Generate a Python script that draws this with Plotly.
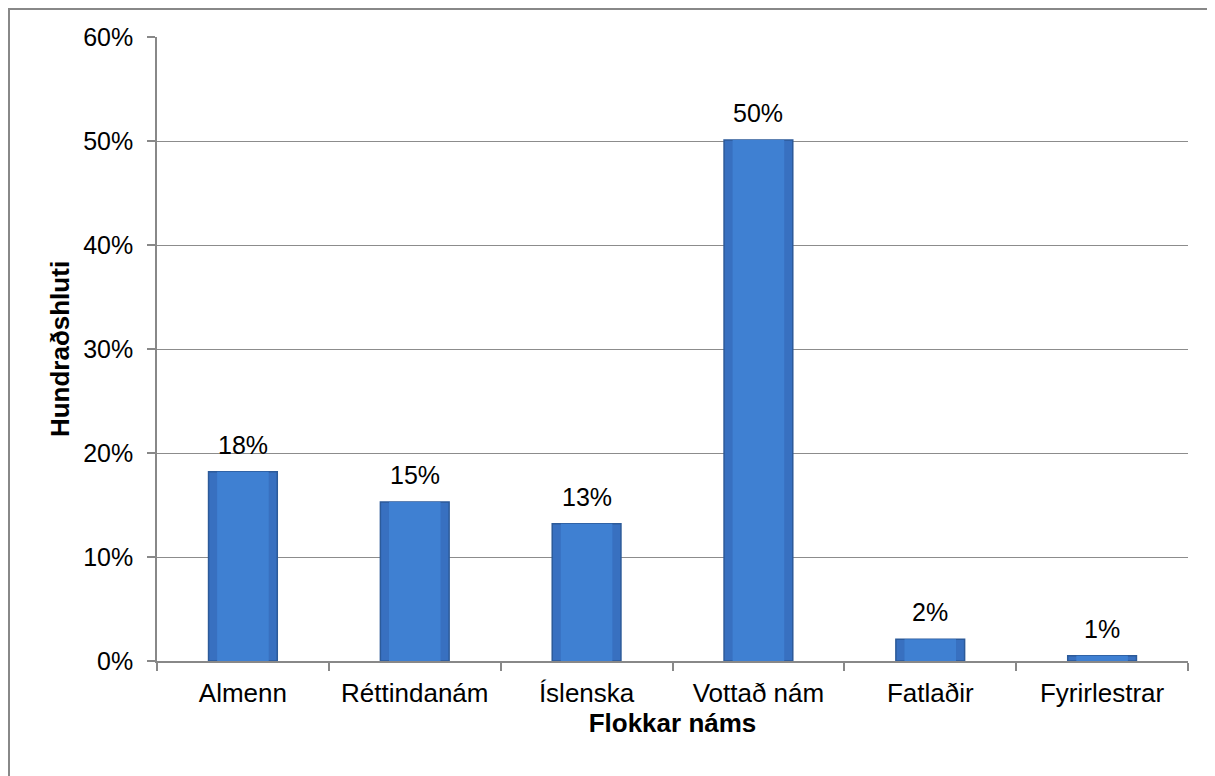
import plotly.graph_objects as go

categories = ["Almenn", "Réttindanám", "Íslenska", "Vottað nám", "Fatlaðir", "Fyrirlestrar"]
values = [18.2, 15.3, 13.2, 50.1, 2.1, 0.5]
labels = ["18%", "15%", "13%", "50%", "2%", "1%"]
y_ticks = [0, 10, 20, 30, 40, 50, 60]
y_tick_text = ["0%", "10%", "20%", "30%", "40%", "50%", "60%"]

FONT = "Liberation Sans, Arial, sans-serif"

fig = go.Figure()
fig.add_trace(go.Bar(
    x=categories, y=values, width=0.4,
    marker=dict(color="#3870c0", line=dict(color="#2c5a99", width=1.5)),
    hoverinfo="skip",
))
fig.add_trace(go.Bar(
    x=categories, y=values, width=0.3,
    marker=dict(color="#3f80d2", line=dict(width=0)),
    hoverinfo="skip",
))

annotations = [
    dict(x=c, y=v, text=t, xref="x", yref="y", showarrow=False,
         yanchor="bottom", yshift=11, font=dict(family=FONT, size=25, color="#000000"))
    for c, v, t in zip(categories, values, labels)
]

fig.update_layout(
    width=1207, height=768,
    margin=dict(l=149, r=27, t=29, b=115),
    paper_bgcolor="white", plot_bgcolor="white",
    barmode="overlay",
    showlegend=False,
    font=dict(family=FONT, size=25, color="#000000"),
    annotations=annotations,
    xaxis=dict(
        tickson="boundaries", ticks="outside", ticklen=8, tickcolor="#888888", tickwidth=1.5,
        showline=True, linecolor="#888888", linewidth=1.5,
        showgrid=False,
        tickfont=dict(family=FONT, size=26),
        ticklabelstandoff=8,
        title=dict(text="<b>Flokkar náms</b>", font=dict(family=FONT, size=26), standoff=6),
    ),
    yaxis=dict(
        range=[0, 60], tickvals=y_ticks, ticktext=y_tick_text,
        ticks="outside", ticklen=8, tickcolor="#888888", tickwidth=1.5,
        showline=True, linecolor="#888888", linewidth=1.5,
        showgrid=True, gridcolor="#8c8c8c", gridwidth=1.3,
        zeroline=False,
        tickfont=dict(family=FONT, size=25),
        ticklabelstandoff=9,
        title=dict(text="<b>Hundraðshluti</b>", font=dict(family=FONT, size=26), standoff=6),
    ),
    shapes=[dict(
        type="rect", xref="paper", yref="paper",
        x0=-0.14355, x1=1.05, y0=-0.2, y1=1.04487,
        line=dict(color="#888888", width=2), fillcolor="rgba(0,0,0,0)", layer="below",
    )],
)

fig.write_html("out.html")
